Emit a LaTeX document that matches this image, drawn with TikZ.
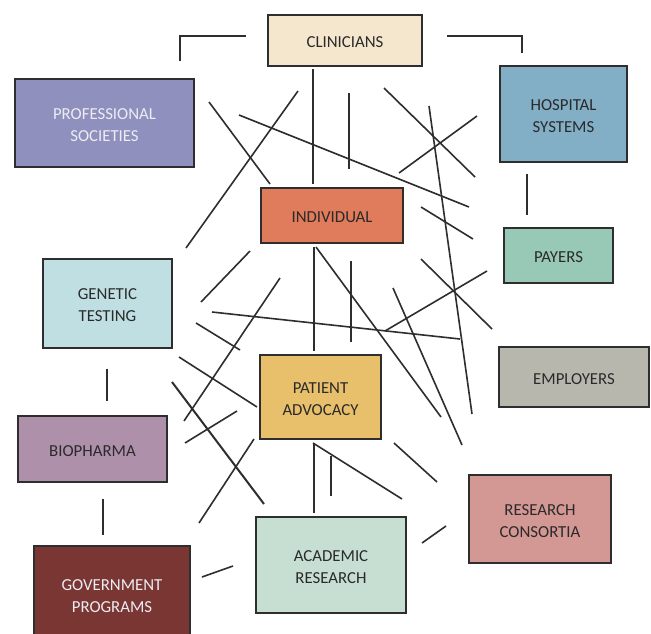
\documentclass[tikz,border=0pt]{standalone}
\usepackage{fontspec}
\setmainfont{Carlito}
\definecolor{inkc}{HTML}{2E2E2E}
\definecolor{clinc}{HTML}{F5E6CE}
\definecolor{profc}{HTML}{9090BE}
\definecolor{hospc}{HTML}{82AFC6}
\definecolor{indc}{HTML}{E07B5B}
\definecolor{payc}{HTML}{97C9B6}
\definecolor{genc}{HTML}{C0DFE3}
\definecolor{empc}{HTML}{B8B7AD}
\definecolor{patc}{HTML}{E8BF6B}
\definecolor{bioc}{HTML}{AF90AB}
\definecolor{resc}{HTML}{D39794}
\definecolor{acadc}{HTML}{C7DED3}
\definecolor{govc}{HTML}{7A3632}
\definecolor{txtd}{HTML}{2A2A2A}
\definecolor{txtl}{HTML}{ECECF2}
\begin{document}
\begin{tikzpicture}[x=1pt,y=-1pt,
  box/.style={draw=inkc,line width=1.8pt,rectangle,inner sep=0pt},
  lbl/.style={inner sep=0pt,align=center,font=\fontsize{16.8}{22}\selectfont,text=txtd},
  link/.style={draw=inkc,line width=1.6pt}]
\useasboundingbox (0,0) rectangle (651,633);
\fill[white] (0,0) rectangle (651,633);
% boxes
\node[box,fill=clinc,minimum width=154pt,minimum height=51pt] (clin) at (345,40.5) {};
\node[box,fill=profc,minimum width=179pt,minimum height=88pt] (prof) at (104.5,123) {};
\node[box,fill=hospc,minimum width=127pt,minimum height=96pt] (hosp) at (563.5,114) {};
\node[box,fill=indc,minimum width=142pt,minimum height=55pt] (ind) at (332,215.5) {};
\node[box,fill=payc,minimum width=109pt,minimum height=55pt] (pay) at (558.5,255.5) {};
\node[box,fill=genc,minimum width=129pt,minimum height=89pt] (gen) at (107.5,303.5) {};
\node[box,fill=empc,minimum width=150pt,minimum height=60pt] (emp) at (574,377) {};
\node[box,fill=patc,minimum width=121pt,minimum height=84pt] (pat) at (320.5,397) {};
\node[box,fill=bioc,minimum width=149pt,minimum height=66pt] (bio) at (92.5,449) {};
\node[box,fill=resc,minimum width=142pt,minimum height=88pt] (res) at (540,519) {};
\node[box,fill=acadc,minimum width=150pt,minimum height=96pt] (acad) at (331,565) {};
\node[box,fill=govc,minimum width=156pt,minimum height=99pt] (gov) at (112,595.5) {};
% labels
\node[lbl] (clinT) at ([yshift=-2pt]clin.center) {CLINICIANS};
\node[lbl,text=txtl] (profT) at ([yshift=-2pt]prof.center) {PROFESSIONAL\\SOCIETIES};
\node[lbl] (hospT) at ([yshift=-2pt]hosp.center) {HOSPITAL\\SYSTEMS};
\node[lbl] (indT) at ([yshift=-2pt]ind.center) {INDIVIDUAL};
\node[lbl] (payT) at ([yshift=-2pt]pay.center) {PAYERS};
\node[lbl] (genT) at ([yshift=-2pt]gen.center) {GENETIC\\TESTING};
\node[lbl] (empT) at ([yshift=-2pt]emp.center) {EMPLOYERS};
\node[lbl] (patT) at ([yshift=-2pt]pat.center) {PATIENT\\ADVOCACY};
\node[lbl] (bioT) at ([yshift=-2pt]bio.center) {BIOPHARMA};
\node[lbl] (resT) at ([yshift=-2pt]res.center) {RESEARCH\\CONSORTIA};
\node[lbl] (acadT) at ([yshift=-2pt]acad.center) {ACADEMIC\\RESEARCH};
\node[lbl,text=txtl] (govT) at ([yshift=-1pt]gov.center) {GOVERNMENT\\PROGRAMS};
% brackets
\draw[link] (180,61) -- (180,36) -- (246,36);
\draw[link] (447,36) -- (522,36) -- (522,53);
% loose connector strokes
\foreach \ax/\ay/\bx/\by in {
  313/69/313/184, 209/102/270/184, 298/91/186/248, 239/115/469/207,
  349/93/349/169, 384/88/475/177, 429/106/472/414, 399/173/477/116,
  421/207/473/239, 527/174/527/215, 314/247/314/351, 316/247/441/417,
  351/261/351/342, 212/312/460/339, 393/288/462/445, 421/259/492/329,
  385/331/487/271, 250/251/201/302, 280/278/184/421, 196/323/240/350,
  179/357/257/407, 237/411/185/443, 254/439/199/523,
  314/443/314/513, 313/443/402/499, 331/456/331/496, 394/443/437/482,
  422/543/446/526, 202/577/233/566, 107/369/107/401, 103/499/103/535}
  {\draw[link] (\ax,\ay) -- (\bx,\by);}
\draw[link,line width=2pt] (172,382) -- (264,504);
\end{tikzpicture}
\end{document}
